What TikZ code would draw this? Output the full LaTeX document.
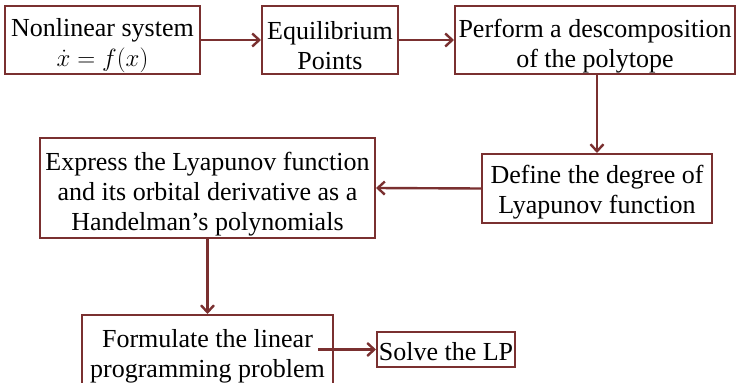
\documentclass[tikz,border=0pt]{standalone}
\usepackage{fontspec}
\setmainfont{Liberation Serif}
\usetikzlibrary{arrows.meta}
\definecolor{boxred}{RGB}{122,48,48}
\newcommand\toplift{\rule{0pt}{30pt}}
\begin{document}
\begin{tikzpicture}[x=1pt,y=-1pt,
  box/.style={draw=boxred,line width=2pt,fill=white,rectangle,inner sep=0pt,align=center,
    font=\fontsize{26}{30}\selectfont},
  conn/.style={draw=boxred,line width=2.4pt,-{Straight Barb[length=7pt,width=13pt,line width=2.4pt]}}]
\useasboundingbox (0,0) rectangle (737,383);
\clip (0,0) rectangle (737,383);
\node[box,minimum width=195pt,minimum height=68pt] (b1) at (102.5,40) {\toplift Nonlinear system\\$\dot{x}=f(x)$};
\node[box,minimum width=136pt,minimum height=68pt] (b2) at (330,40) {\toplift Equilibrium\\Points};
\node[box,minimum width=280pt,minimum height=68pt] (b3) at (595,40) {\toplift Perform a descomposition\\of the polytope};
\node[box,minimum width=230pt,minimum height=69pt] (b4) at (597,188.5) {\rule{0pt}{26pt}Define the degree of\\Lyapunov function};
\node[box,minimum width=335pt,minimum height=100pt] (b5) at (207.5,188) {\toplift Express the Lyapunov function\\and its orbital derivative as a\\Handelman's polynomials};
\node[box,minimum width=251pt,minimum height=74pt] (b6) at (207.5,352) {\rule{0pt}{26pt}Formulate the linear\\programming problem};
\node[box,minimum width=138pt,minimum height=35pt] (b7) at (446,349.5) {\rule{0pt}{22pt}Solve the LP};
\coordinate (c6) at (318,349.5);
\draw[conn] (b1.east) -- (b2.west);
\draw[conn] (b2.east) -- (b3.west);
\draw[conn] (b3.south -| b4.north) -- (b4.north);
\draw[conn] (b4.west) -- (b5.east);
\draw[conn] (b5.south) -- (b6.north);
\draw[conn] (c6) -- (b7.west);
\end{tikzpicture}
\end{document}
